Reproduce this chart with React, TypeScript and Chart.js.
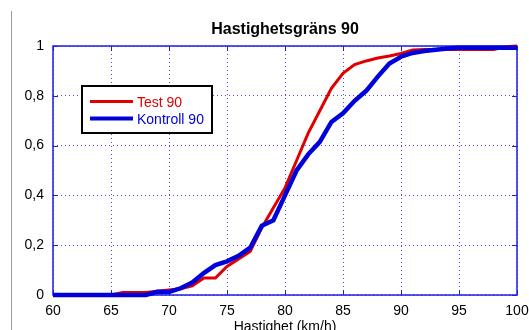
import { useEffect, useRef } from 'react';
import { Chart, registerables } from 'chart.js';

Chart.register(...registerables);

// Cumulative share of vehicles at or below each speed (km/h)
const speeds = [
  60, 61, 62, 63, 64, 65, 66, 67, 68, 69, 70, 71, 72, 73, 74, 75, 76, 77, 78, 79, 80,
  81, 82, 83, 84, 85, 86, 87, 88, 89, 90, 91, 92, 93, 94, 95, 96, 97, 98, 99, 100,
];
const testValues = [
  0, 0, 0, 0, 0, 0, 0.01, 0.01, 0.01, 0.015, 0.02, 0.025, 0.037, 0.068, 0.068, 0.115,
  0.145, 0.175, 0.27, 0.35, 0.43, 0.54, 0.65, 0.74, 0.83, 0.89, 0.925, 0.94, 0.952,
  0.96, 0.97, 0.984, 0.986, 0.986, 0.986, 0.986, 0.986, 0.986, 0.986, 0.997, 1.0,
];
const controlValues = [
  0, 0, 0, 0, 0, 0, 0, 0, 0, 0.013, 0.012, 0.027, 0.05, 0.088, 0.12, 0.135, 0.157,
  0.19, 0.278, 0.3, 0.4, 0.5, 0.565, 0.615, 0.695, 0.73, 0.78, 0.82, 0.877, 0.93,
  0.957, 0.972, 0.98, 0.985, 0.99, 0.993, 0.993, 0.993, 0.993, 0.993, 0.993,
];
const xTickValues = [60, 65, 70, 75, 80, 85, 90, 95, 100];
const yTickValues = [0, 0.2, 0.4, 0.6, 0.8, 1];

const titleText = 'Hastighetsgräns 90';
const xAxisTitle = 'Hastighet (km/h)';
const testLabel = 'Test 90';
const controlLabel = 'Kontroll 90';

const FONT = '"Liberation Sans", Arial, Helvetica, sans-serif';
const RED = '#e00000';
const BLUE = '#0000dc';
const FRAME = '#1c1ce6';
const GRID = 'rgba(40, 40, 255, 0.85)';

const formatDecimal = (v: number) => String(Math.round(v * 10) / 10).replace('.', ',');

const decorPlugin = {
  id: 'decor',
  beforeDraw(chart: any) {
    const { ctx, width, height } = chart;
    ctx.save();
    ctx.fillStyle = '#ffffff';
    ctx.fillRect(0, 0, width, height);
    ctx.strokeStyle = '#9a9a9a';
    ctx.lineWidth = 1;
    ctx.beginPath();
    ctx.moveTo(11.5, 11);
    ctx.lineTo(11.5, height);
    ctx.stroke();
    ctx.restore();
  },
  beforeDatasetsDraw(chart: any) {
    const { ctx, chartArea } = chart;
    const { left, right, top, bottom } = chartArea;
    const xs = chart.scales.x;
    const ys = chart.scales.y;
    ctx.save();
    ctx.strokeStyle = FRAME;
    ctx.lineWidth = 1.5;
    ctx.strokeRect(left, top, right - left, bottom - top);
    ctx.lineWidth = 1;
    const tl = 5;
    ctx.beginPath();
    xTickValues.forEach((v) => {
      const px = Math.round(xs.getPixelForValue(v)) + 0.5;
      ctx.moveTo(px, bottom);
      ctx.lineTo(px, bottom - tl);
      ctx.moveTo(px, top);
      ctx.lineTo(px, top + tl);
    });
    yTickValues.forEach((v) => {
      const py = Math.round(ys.getPixelForValue(v)) + 0.5;
      ctx.moveTo(left, py);
      ctx.lineTo(left + tl, py);
      ctx.moveTo(right, py);
      ctx.lineTo(right - tl, py);
    });
    ctx.stroke();
    ctx.restore();
  },
  afterDraw(chart: any) {
    const { ctx, chartArea } = chart;
    const cx = (chartArea.left + chartArea.right) / 2;
    ctx.save();
    ctx.fillStyle = '#000000';
    ctx.textAlign = 'center';
    ctx.textBaseline = 'alphabetic';
    ctx.font = `bold 16px ${FONT}`;
    ctx.fillText(titleText, cx, 34);
    ctx.font = `14px ${FONT}`;
    ctx.fillText(xAxisTitle, cx, 331);

    // legend box
    const bx = 82;
    const by = 86;
    const bw = 130;
    const bh = 47;
    ctx.fillStyle = '#ffffff';
    ctx.fillRect(bx, by, bw, bh);
    ctx.strokeStyle = '#000000';
    ctx.lineWidth = 2;
    ctx.strokeRect(bx, by, bw, bh);

    ctx.lineCap = 'butt';
    ctx.strokeStyle = RED;
    ctx.lineWidth = 3;
    ctx.beginPath();
    ctx.moveTo(90, 101.5);
    ctx.lineTo(133, 101.5);
    ctx.stroke();
    ctx.strokeStyle = BLUE;
    ctx.lineWidth = 4;
    ctx.beginPath();
    ctx.moveTo(90, 118.5);
    ctx.lineTo(133, 118.5);
    ctx.stroke();

    ctx.textAlign = 'left';
    ctx.font = `14px ${FONT}`;
    ctx.fillStyle = RED;
    ctx.fillText(testLabel, 137, 106.5);
    ctx.fillStyle = BLUE;
    ctx.fillText(controlLabel, 137, 123.5);
    ctx.restore();
  },
};

export default function App() {
  const canvasRef = useRef<HTMLCanvasElement | null>(null);

  useEffect(() => {
    const canvas = canvasRef.current;
    if (!canvas) return;
    const gridLine = {
      color: GRID,
      lineWidth: 1,
      drawTicks: false,
    };
    const chart = new Chart(canvas, {
      type: 'line',
      data: {
        datasets: [
          {
            label: testLabel,
            data: speeds.map((s, i) => ({ x: s, y: testValues[i] })),
            borderColor: RED,
            borderWidth: 3,
            pointRadius: 0,
            tension: 0,
            fill: false,
            order: 1,
            clip: 6,
          },
          {
            label: controlLabel,
            data: speeds.map((s, i) => ({ x: s, y: controlValues[i] })),
            borderColor: BLUE,
            borderWidth: 4.5,
            pointRadius: 0,
            tension: 0,
            fill: false,
            order: 0,
            clip: 6,
          },
        ],
      },
      options: {
        animation: false,
        responsive: false,
        devicePixelRatio: 1,
        layout: { padding: { top: 46, right: 12, left: 0, bottom: 0 } },
        plugins: {
          legend: { display: false },
          title: { display: false },
          tooltip: { enabled: false },
        },
        scales: {
          x: {
            type: 'linear',
            min: 60,
            max: 100,
            afterFit: (scale: any) => {
              scale.height = 35;
              scale.paddingLeft = 0;
              scale.paddingRight = 0;
            },
            afterBuildTicks: (scale: any) => {
              scale.ticks = xTickValues.map((v) => ({ value: v }));
            },
            ticks: {
              color: '#000000',
              font: { family: FONT, size: 14 },
              padding: 8,
              maxRotation: 0,
              autoSkip: false,
            },
            grid: gridLine,
            border: { display: false, dash: [1, 3] },
          },
          y: {
            type: 'linear',
            min: 0,
            max: 1,
            afterFit: (scale: any) => {
              scale.width = 53;
              scale.paddingTop = 0;
              scale.paddingBottom = 0;
            },
            afterBuildTicks: (scale: any) => {
              scale.ticks = yTickValues.map((v) => ({ value: v }));
            },
            ticks: {
              color: '#000000',
              font: { family: FONT, size: 14 },
              padding: 9,
              callback: (v: any) => formatDecimal(Number(v)),
            },
            grid: gridLine,
            border: { display: false, dash: [1, 3] },
          },
        },
      },
      plugins: [decorPlugin],
    } as any);
    return () => chart.destroy();
  }, []);

  return (
    <div style={{ position: 'absolute', left: 0, top: 0, width: 529, height: 330 }}>
      <canvas ref={canvasRef} width={529} height={330} />
    </div>
  );
}
